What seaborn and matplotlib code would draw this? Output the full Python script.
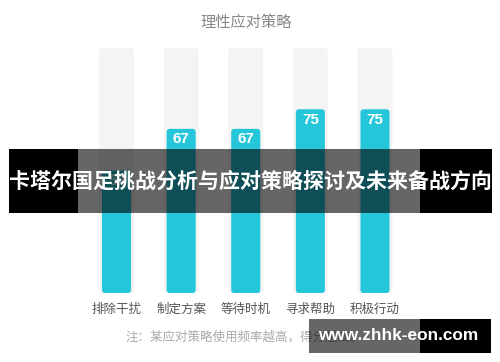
import matplotlib
matplotlib.use("Agg")
import matplotlib.pyplot as plt
import seaborn as sns
import pandas as pd
from matplotlib.patches import Rectangle, FancyBboxPatch

categories = ["排除干扰", "制定方案", "等待时机", "寻求帮助", "积极行动"]
values = [50, 67, 67, 75, 75]
max_values = [100, 100, 100, 100, 100]
title = "理性应对策略"
note = "注：某应对策略使用频率越高，得分越高。"
banner = "卡塔尔国足挑战分析与应对策略探讨及未来备战方向"
watermark = "www.zhhk-eon.com"

sns.set_theme(style="white")
plt.rcParams['font.family'] = ['Noto Sans CJK SC', 'DejaVu Sans']

df = pd.DataFrame({"cat": categories, "val": values, "bg": max_values})

W, H = 500, 362
fig = plt.figure(figsize=(W / 100, H / 100), dpi=100)
fig.patch.set_facecolor("white")

def fx(px):
    return px / W

def fy(py):
    return 1 - py / H

ax = fig.add_axes([fx(84.2), fy(293), fx(323.1), 245 / H])
sns.barplot(data=df, x="cat", y="bg", color="#f4f4f4", width=0.54, ax=ax,
            saturation=1, edgecolor="none")
sns.barplot(data=df, x="cat", y="val", color="#25c6da", width=0.45, ax=ax,
            saturation=1, edgecolor="none")
ax.set_xlim(-0.5, 4.5)
ax.set_ylim(0, 100)

# round the bar corners slightly
px_per_x = 323.1 / 5.0
px_per_y = 245 / 100.0
r_px = 3.0
rx = r_px / px_per_x
aspect = (r_px / px_per_y) / rx
for p in list(ax.patches):
    x0, y0 = p.get_x(), p.get_y()
    w, h = p.get_width(), p.get_height()
    fb = FancyBboxPatch((x0, y0), w, h,
                        boxstyle=f"round,pad=0,rounding_size={rx}",
                        mutation_aspect=aspect,
                        facecolor=p.get_facecolor(), edgecolor="none",
                        zorder=p.get_zorder())
    p.remove()
    ax.add_patch(fb)

ax.set_xlabel("")
ax.set_ylabel("")
ax.set_yticks([])
ax.tick_params(axis="x", length=0, pad=7, labelsize=9, labelcolor="#555555")
for s in ax.spines.values():
    s.set_visible(False)
ax.set_facecolor("none")

for i, v in enumerate(values):
    ax.annotate(str(v), (i, v), xytext=(0, -7.5), textcoords="offset points",
                ha="center", va="center", color="white", fontsize=11,
                fontweight="bold", family=["Liberation Sans"])

fig.text(fx(246), fy(22), title, ha="center", va="center", fontsize=11, color="#888888")
fig.text(fx(125), fy(337), note, ha="left", va="center", fontsize=9, color="#aaaaaa")

# banner overlay
def rect(x0, y0, x1, y1, color, alpha=1.0):
    fig.add_artist(Rectangle((fx(x0), fy(y1)), fx(x1 - x0), (y1 - y0) / H,
                             transform=fig.transFigure, facecolor=color,
                             alpha=alpha, edgecolor="none", zorder=10))

rect(9, 149, 78, 213, "black")
rect(78, 149, 420, 213, "black", 0.6)
rect(420, 149, 492, 213, "black")
fig.text(fx(250.5), fy(181), banner, ha="center", va="center", fontsize=15.1,
         color="white", fontweight="bold", zorder=11)

rect(309, 319, 420, 353, "black", 0.6)
rect(420, 319, 491, 353, "black")
fig.text(fx(398.5), fy(336), watermark, ha="center", va="center", fontsize=12.4,
         color="white", fontweight="bold", family=["Liberation Sans"], zorder=11)

fig.savefig("out.png", dpi=100)
